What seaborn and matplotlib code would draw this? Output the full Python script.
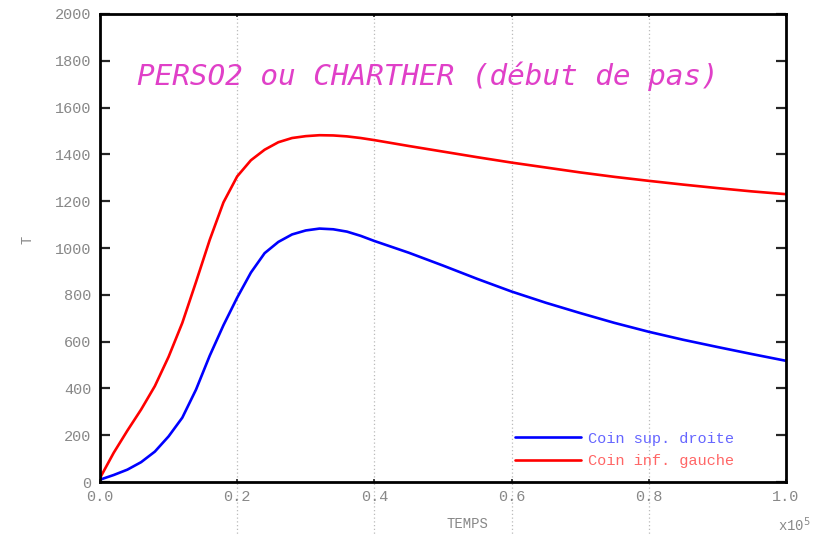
import numpy as np
import pandas as pd
import matplotlib
matplotlib.use("Agg")
import matplotlib.pyplot as plt
import seaborn as sns

# --- data (temps in units of 1e5) ---
temps = [0.00, 0.02, 0.04, 0.06, 0.08, 0.10, 0.12, 0.14, 0.16, 0.18, 0.20,
         0.22, 0.24, 0.26, 0.28, 0.30, 0.32, 0.34, 0.36, 0.38, 0.40,
         0.45, 0.50, 0.55, 0.60, 0.65, 0.70, 0.75, 0.80, 0.85, 0.90, 0.95, 1.00]
coin_sup_droite = [10, 30, 53, 85, 130, 195, 275, 395, 540, 670, 788,
                   895, 978, 1026, 1058, 1075, 1083, 1080, 1070, 1052, 1030,
                   980, 925, 868, 814, 766, 722, 680, 642, 608, 577, 547, 518]
coin_inf_gauche = [17, 125, 220, 310, 410, 535, 680, 855, 1035, 1195, 1306,
                   1375, 1420, 1452, 1470, 1478, 1482, 1481, 1477, 1470, 1461,
                   1436, 1412, 1388, 1365, 1344, 1323, 1304, 1287, 1271, 1256, 1242, 1230]
series_names = ["Coin sup. droite", "Coin inf. gauche"]
x_ticks = [0.0, 0.2, 0.4, 0.6, 0.8, 1.0]
y_ticks = list(range(0, 2001, 200))
title_text = "PERSO2 ou CHARTHER (début de pas)"

df = pd.concat([
    pd.DataFrame({"TEMPS": temps, "T": coin_sup_droite, "serie": series_names[0]}),
    pd.DataFrame({"TEMPS": temps, "T": coin_inf_gauche, "serie": series_names[1]}),
])

sns.set_style("white")
plt.rcParams["font.family"] = ["Liberation Mono", "DejaVu Sans Mono"]

fig = plt.figure(figsize=(8.27, 5.36), dpi=100)
ax = fig.add_axes([0.1209, 0.1007, 0.8295, 0.8732])

sns.lineplot(data=df, x="TEMPS", y="T", hue="serie", palette=["#0000ff", "#ff0000"],
             linewidth=1.9, sort=False, legend=False, ax=ax)

ax.set_xlim(0, 1)
ax.set_ylim(0, 2000)
ax.set_xticks(x_ticks)
ax.set_xticklabels([f"{v:.1f}" for v in x_ticks])
ax.set_yticks(y_ticks)

# dotted vertical grid, running down past the axis like the original
for xv in x_ticks[1:-1]:
    ax.axvline(xv, ymin=-0.13, ymax=1, clip_on=False, ls=(0, (1, 2)),
               color="#bbbbbb", lw=0.9, zorder=0)

for s in ax.spines.values():
    s.set_color("black")
    s.set_linewidth(2)

ax.tick_params(axis="y", direction="in", length=7, width=1.6, left=True, right=True,
               labelsize=11, labelcolor="#888888", pad=6)
ax.tick_params(axis="x", direction="in", length=2.5, width=1.2, bottom=True, top=True,
               labelsize=11, labelcolor="#888888", pad=6)

ax.set_xlabel("TEMPS", fontsize=10, color="#888888", va="center")
ax.xaxis.set_label_coords(0.536, -0.09)
ax.set_ylabel("T", fontsize=10, color="#888888", va="center")
ax.yaxis.set_label_coords(-0.106, 0.517)
ax.text(0.988, -0.072, r"x10$^5$", transform=ax.transAxes, fontsize=10,
        color="#888888", ha="left", va="top")

ax.text(0.054, 0.8675, title_text, transform=ax.transAxes, fontsize=21.2,
        color="#e040c8", fontstyle="italic", family=["DejaVu Sans Mono"],
        ha="left", va="center")

handles = [plt.Line2D([], [], color="#0000ff", lw=1.9),
           plt.Line2D([], [], color="#ff0000", lw=1.9)]
ax.legend(handles, series_names, loc="lower left", bbox_to_anchor=(0.605, 0.03),
          frameon=False, fontsize=11, handlelength=4.3, handletextpad=0.5,
          labelspacing=0.55, borderpad=0, borderaxespad=0,
          labelcolor=["#6666ff", "#ff6666"])

fig.savefig("out.png", dpi=100)
